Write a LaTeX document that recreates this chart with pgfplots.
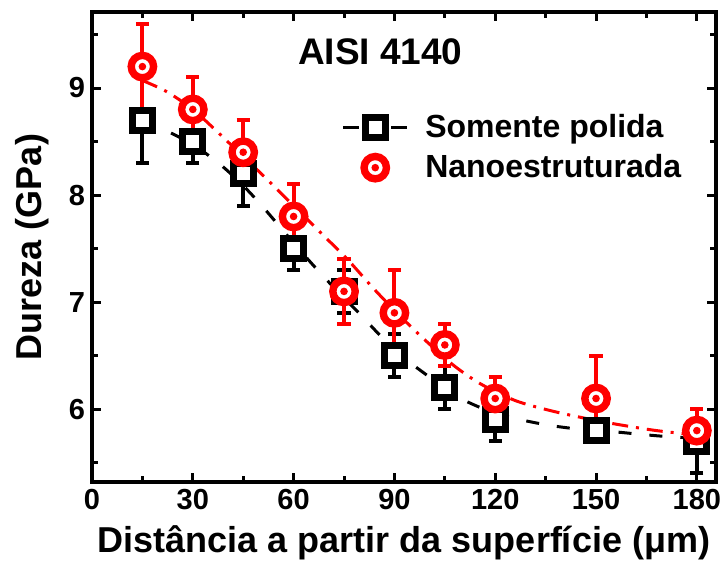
\documentclass[border=0pt]{standalone}
\usepackage{pgfplots}
\pgfplotsset{compat=1.18}
\usepackage{pgfplotstable}
\usepackage{fontspec}
\setmainfont{Liberation Sans}
\usetikzlibrary{plotmarks}

\pgfdeclareplotmark{ringdot}{%
  \pgfpathcircle{\pgfpointorigin}{\pgfplotmarksize}%
  \pgfusepathqfillstroke
  \begin{pgfscope}%
  \pgfsetfillcolor{red}%
  \pgfpathcircle{\pgfpointorigin}{0.34\pgfplotmarksize}%
  \pgfusepathqfill
  \end{pgfscope}%
}

\pgfplotsset{
  legsq/.style={legend image code/.code={
    \path[draw=none, fill=none] (0pt,0pt) -- (39pt,0pt);
    \draw[line width=1.5pt, black] (0pt,0pt)--(8pt,0pt) (24pt,0pt)--(32pt,0pt);
    \draw[black, mark=square*, mark size=5pt, mark options={fill=white, line width=3.5pt, solid}] plot coordinates {(16pt,0pt)};
  }},
  legci/.style={legend image code/.code={
    \path[draw=none, fill=none] (0pt,0pt) -- (39pt,0pt);
    \draw[red, mark=ringdot, mark size=5.6pt, mark options={fill=white, line width=3.7pt, solid}] plot coordinates {(16pt,0pt)};
  }},
}

\pgfplotstableread{
x y e
15 8.7 0.4
30 8.5 0.2
45 8.2 0.3
60 7.5 0.2
75 7.1 0.2
90 6.5 0.2
105 6.2 0.2
120 5.9 0.2
150 5.8 0.1
180 5.7 0.3
}\polida

\pgfplotstableread{
x y e
15 9.2 0.4
30 8.8 0.3
45 8.4 0.3
60 7.8 0.3
75 7.1 0.3
90 6.9 0.4
105 6.6 0.2
120 6.1 0.2
150 6.1 0.4
180 5.8 0.2
}\nano

\pgfplotstableread{
x y
15 8.69
20 8.63
26 8.54
32 8.43
38 8.29
44 8.12
50 7.92
56 7.70
62 7.48
68 7.27
74 7.07
80 6.88
86 6.68
92 6.50
100 6.31
108 6.13
116 6.01
125 5.92
136 5.85
146 5.81
155 5.79
165 5.76
173 5.74
180 5.73
}\fitpolida

\pgfplotstableread{
x y
15 9.07
22 8.97
30 8.80
38 8.57
45 8.36
52 8.15
60 7.90
68 7.65
76 7.40
84 7.12
92 6.86
100 6.62
108 6.40
116 6.23
126 6.08
136 5.99
146 5.92
156 5.86
168 5.80
180 5.76
}\fitnano

\begin{document}
\begin{tikzpicture}
\begin{axis}[
  name=ax,
  width=312pt, height=235pt, scale only axis,
  xmin=0, xmax=185.7, ymin=5.32, ymax=9.71,
  xtick={0,30,...,180}, minor xtick={15,45,...,165},
  ytick={6,7,8,9}, minor ytick={5.5,6.5,7.5,8.5,9.5},
  tick align=inside,
  major tick length=4.5pt, minor tick length=3pt,
  every tick/.style={line width=1.5pt, black},
  axis line style={line width=1.75pt},
  /pgf/number format/assume math mode=true,
  tick label style={font=\fontsize{14.5}{16}\selectfont\bfseries},
  label style={font=\fontsize{18}{20}\selectfont\bfseries},
  xlabel={Distância a partir da superfície (μm)},
  ylabel={Dureza (GPa)},
  ylabel style={xshift=0pt, yshift=3pt},
  xlabel style={yshift=-1pt},
  legend style={draw=none, fill=none, at={(rel axis cs:0.39,0.80)}, anchor=north west,
    font=\fontsize{16}{18}\selectfont\bfseries, row sep=3pt},
  legend cell align=left,
  clip=false,
]
\addplot[black, only marks, mark=square*, mark size=5pt,
  mark options={fill=white, line width=3.5pt, solid}, forget plot,
  error bars/.cd, y dir=both, y explicit,
  error mark=-, error bar style={line width=2pt},
  error mark options={line width=2pt, mark size=3.3pt, rotate=90}]
  table[x=x, y=y, y error=e] {\polida};
\addplot[red, only marks, mark=ringdot, mark size=5.6pt,
  mark options={fill=white, line width=3.7pt, solid}, forget plot,
  error bars/.cd, y dir=both, y explicit,
  error mark=-, error bar style={line width=2pt},
  error mark options={line width=2pt, mark size=3.3pt, rotate=90}]
  table[x=x, y=y, y error=e] {\nano};
\addplot[black, line width=1.5pt, dash pattern=on 6.5pt off 9pt, smooth, no marks, forget plot]
  table[x=x, y=y] {\fitpolida};
\addplot[red, line width=1.5pt, dash pattern=on 8pt off 4pt on 1.5pt off 4pt, smooth, no marks, forget plot]
  table[x=x, y=y] {\fitnano};

\addlegendimage{legsq}
\addlegendentry{Somente polida}
\addlegendimage{legci}
\addlegendentry{Nanoestruturada}

\node[font=\fontsize{18.5}{20}\selectfont\bfseries] at (rel axis cs:0.462,0.915) {AISI 4140};
\end{axis}
\pgfresetboundingbox
\path ([shift={(-46pt,-42pt)}]ax.south west) rectangle ([shift={(4.5pt,6pt)}]ax.north east);
\end{tikzpicture}
\end{document}
